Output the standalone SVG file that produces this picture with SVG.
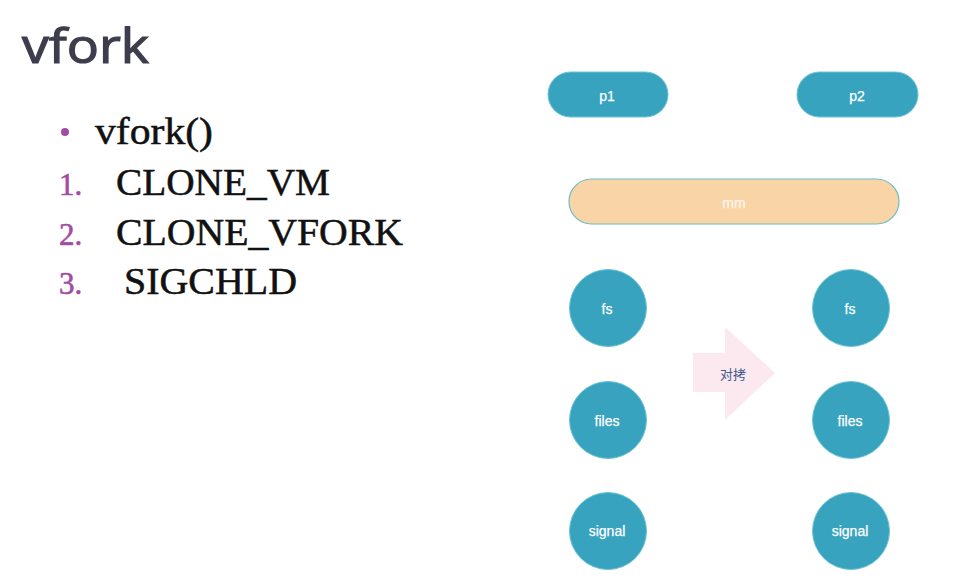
<svg xmlns="http://www.w3.org/2000/svg" width="953" height="579" viewBox="0 0 953 579">
<style>
.node{fill:#38A3BF;stroke:#6CC3D3;stroke-width:1}
.lbl{font-family:"Liberation Sans",Arial,sans-serif;font-size:14px;fill:#ffffff;stroke:#ffffff;stroke-width:0.25;text-anchor:middle;dominant-baseline:central}
.item{font-family:"Liberation Serif","Times New Roman",serif;font-size:37px;fill:#111111;stroke:#111111;stroke-width:0.5}
.num{font-family:"Liberation Serif","Times New Roman",serif;font-size:31px;fill:#A24BA4;stroke:#A24BA4;stroke-width:0.6}
</style>
<rect width="953" height="579" fill="#ffffff"/>
<g id="text-panel">
<text x="22" y="63" font-family="'Open Sans',Lato,sans-serif" font-size="48" fill="#3D3D4D" stroke="#3D3D4D" stroke-width="1.2" textLength="127" lengthAdjust="spacingAndGlyphs">vfork</text>
<circle cx="65" cy="132" r="4" fill="#A24BA4"/>
<text class="item" x="95" y="144" font-size="33" textLength="118" lengthAdjust="spacingAndGlyphs">vfork()</text>
<text class="num" x="59" y="195">1.</text>
<text class="item" x="116" y="195" textLength="214" lengthAdjust="spacingAndGlyphs">CLONE_VM</text>
<text class="num" x="59" y="245">2.</text>
<text class="item" x="116" y="245" textLength="287" lengthAdjust="spacingAndGlyphs">CLONE_VFORK</text>
<text class="num" x="59" y="294">3.</text>
<text class="item" x="124" y="294" textLength="173" lengthAdjust="spacingAndGlyphs">SIGCHLD</text>
</g>
<g id="p1"><rect class="node" x="548" y="72" width="120" height="45" rx="22.5"/><text class="lbl" x="607" y="96">p1</text></g>
<g id="p2"><rect class="node" x="797" y="72" width="121" height="45" rx="22.5"/><text class="lbl" x="857" y="96">p2</text></g>
<g id="mm"><rect x="569" y="179" width="330" height="45" rx="22.5" fill="#F9D4A7" stroke="#6BBCC3" stroke-width="1.2"/><text class="lbl" x="734" y="203" style="fill:#FFF6EA;stroke:#FFF6EA">mm</text></g>
<g id="fs-left"><circle class="node" cx="608" cy="308" r="38.5"/><text class="lbl" x="607" y="309">fs</text></g>
<g id="files-left"><circle class="node" cx="608" cy="420" r="38.5"/><text class="lbl" x="607" y="421">files</text></g>
<g id="signal-left"><circle class="node" cx="608" cy="531" r="38.5"/><text class="lbl" x="607" y="531">signal</text></g>
<g id="fs-right"><circle class="node" cx="851" cy="308" r="38.5"/><text class="lbl" x="850" y="309">fs</text></g>
<g id="files-right"><circle class="node" cx="851" cy="420" r="38.5"/><text class="lbl" x="850" y="421">files</text></g>
<g id="signal-right"><circle class="node" cx="851" cy="531" r="38.5"/><text class="lbl" x="850" y="531">signal</text></g>
<g id="connectors">
<g id="copy-arrow"><polygon points="693,353 725,353 725,327 775,373 725,420 725,392 693,392" fill="#FBE9EF"/><text x="733" y="373" font-family="'Noto Sans CJK SC',sans-serif" font-size="13" fill="#3E5B8C" text-anchor="middle" dominant-baseline="central">对拷</text></g>
</g>
</svg>
